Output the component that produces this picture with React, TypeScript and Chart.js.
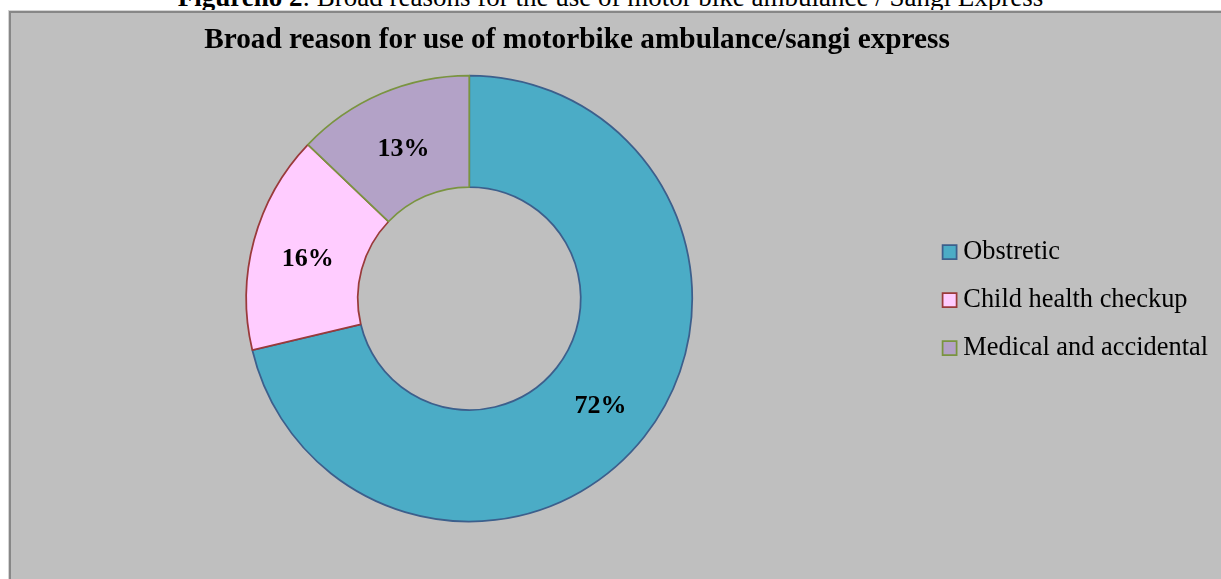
import React, { useEffect, useRef } from "react";
import { Chart, registerables } from "chart.js";

Chart.register(...registerables);

const categories = ["Obstretic", "Child health checkup", "Medical and accidental"];
const shares = [72, 16, 13];
const sliceColors = ["#4BACC6", "#FFCCFF", "#B3A2C7"];
const sliceBorders = ["#3C5F8C", "#9A3A3A", "#7A9440"];
const chartTitle = "Broad reason for use of motorbike ambulance/sangi express";
const figureLabel = "Figureno 2";
const figureCaption = ": Broad reasons for the use of motor bike ambulance / Sangi Express";

const SERIF = "'Liberation Serif', 'Times New Roman', serif";
const LEGEND_FONT = 26.4;
const LEGEND_PAD = 21.6;
const LEGEND_BOX_W = 1;
const CHART_RIGHT = 916.5;
const CANVAS_H = 566;

const sliceLabelPlugin = {
  id: "sliceLabels",
  afterDatasetsDraw(chart: any) {
    const ctx = chart.ctx;
    const meta = chart.getDatasetMeta(0);
    ctx.save();
    ctx.font = `bold 26px ${SERIF}`;
    ctx.fillStyle = "#000";
    ctx.textAlign = "center";
    ctx.textBaseline = "alphabetic";
    meta.data.forEach((arc: any, i: number) => {
      const p = arc.tooltipPosition(false);
      ctx.fillText(`${shares[i]}%`, p.x, p.y + 11);
    });
    ctx.restore();
  },
};

export default function App() {
  const canvasRef = useRef<HTMLCanvasElement | null>(null);

  useEffect(() => {
    const canvas = canvasRef.current;
    if (!canvas) return;

    const meas = document.createElement("canvas").getContext("2d") as CanvasRenderingContext2D;
    meas.font = `${LEGEND_FONT}px ${SERIF}`;
    const textW = Math.max(...categories.map((c) => meas.measureText(c).width));
    const legendW = LEGEND_PAD + LEGEND_BOX_W + LEGEND_FONT / 2 + textW + 10;
    const W = Math.ceil(CHART_RIGHT + legendW + 1);
    const padR = W - CHART_RIGHT - legendW;
    canvas.width = W;
    canvas.height = CANVAS_H;
    canvas.style.width = `${W}px`;
    canvas.style.height = `${CANVAS_H}px`;

    const chart = new Chart(canvas, {
      type: "doughnut",
      data: {
        labels: categories,
        datasets: [
          {
            data: shares,
            backgroundColor: sliceColors,
            borderColor: sliceBorders,
            borderWidth: 1.75,
          },
        ],
      },
      options: {
        responsive: false,
        animation: false,
        cutout: "50%",
        radius: 223,
        layout: { padding: { left: 0, right: padR, top: 62.5, bottom: 57.5 } },
        plugins: {
          title: { display: false },
          legend: {
            position: "right",
            fullSize: false,
            title: { display: true, text: "", font: { size: 1 }, padding: { top: 0.9, bottom: 0.9 } },
            labels: {
              usePointStyle: true,
              pointStyle: "rect",
              boxWidth: LEGEND_BOX_W,
              boxHeight: 14,
              padding: LEGEND_PAD,
              color: "#000",
              font: { family: SERIF, size: LEGEND_FONT },
            },
          },
          tooltip: { enabled: false },
        },
      } as any,
      plugins: [sliceLabelPlugin],
    });
    return () => chart.destroy();
  }, []);

  return (
    <div
      style={{
        position: "fixed",
        left: 0,
        top: 0,
        right: 0,
        bottom: 0,
        background: "#fff",
        overflow: "hidden",
        fontFamily: SERIF,
      }}
    >
      <div
        style={{
          position: "absolute",
          left: 0,
          right: 0,
          top: -16,
          textAlign: "center",
          fontSize: 27,
          lineHeight: "27px",
          color: "#000",
          whiteSpace: "nowrap",
        }}
      >
        <b>{figureLabel}</b>
        {figureCaption}
      </div>
      <div
        style={{
          position: "absolute",
          left: 9,
          top: 11,
          width: 1300,
          height: 700,
          background: "#BFBFBF",
          borderLeft: "2px solid #878787",
          borderTop: "2px solid #878787",
          boxShadow: "-1px -1px 0 #d4d4d4",
        }}
      >
        <canvas
          ref={canvasRef}
          width={1210}
          height={CANVAS_H}
          style={{ position: "absolute", left: 0, top: 0, width: 1210, height: CANVAS_H }}
        />
      </div>
      <div
        style={{
          position: "absolute",
          left: 0,
          width: 1154,
          top: 23,
          textAlign: "center",
          fontSize: 29.3,
          fontWeight: "bold",
          lineHeight: "30px",
          color: "#000",
          whiteSpace: "nowrap",
        }}
      >
        {chartTitle}
      </div>
    </div>
  );
}
